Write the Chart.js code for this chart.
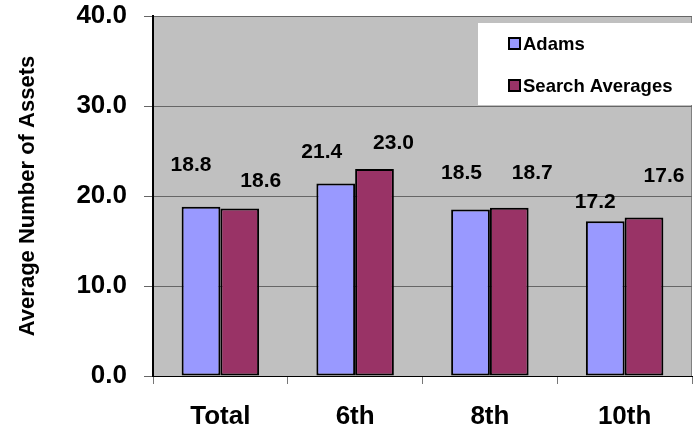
<!DOCTYPE html>
<html>
<head>
<meta charset="utf-8">
<script src="https://cdn.jsdelivr.net/npm/chart.js@4.4.3/dist/chart.umd.min.js"></script>
<style>
  body { margin: 0; background: #fff; }
  #wrap { width: 694px; height: 433px; }
</style>
</head>
<body>
<div id="wrap"><canvas id="grafico" width="694" height="433"></canvas></div>
<script>
// datos del gráfico
const categorias = ['Total', '6th', '8th', '10th'];
const adams = [18.8, 21.4, 18.5, 17.2];
const searchAverages = [18.6, 23.0, 18.7, 17.6];
const serieNombres = ['Adams', 'Search Averages'];
const serieColores = ['#9999FF', '#993366'];

// desplazamiento de cada etiqueta respecto al tope de su barra (dx, dy)
const nudgeAdams = [[-10, -42], [-14, -31], [-9, -36], [-10, -19]];
const nudgeSearch = [[21, -27], [19, -26], [23, -34], [20, -41]];

const FUENTE = "'Liberation Sans', Arial, sans-serif";

// fondo gris del área de trazado
const fondoPlot = {
    id: 'fondoPlot',
    beforeDraw(chart) {
        const { ctx, chartArea: a } = chart;
        ctx.save();
        ctx.fillStyle = '#C0C0C0';
        ctx.fillRect(a.left, a.top, a.right - a.left, a.bottom - a.top);
        ctx.strokeStyle = '#808080';
        ctx.lineWidth = 1;
        ctx.beginPath();
        ctx.moveTo(a.left, a.top + 0.5);
        ctx.lineTo(a.right - 0.5, a.top + 0.5);
        ctx.lineTo(a.right - 0.5, a.bottom);
        ctx.stroke();
        ctx.restore();
    }
};

// etiquetas de valor sobre las barras
const etiquetas = {
    id: 'etiquetas',
    afterDatasetsDraw(chart) {
        const { ctx } = chart;
        const nudges = [nudgeAdams, nudgeSearch];
        ctx.save();
        ctx.font = `bold 21px ${FUENTE}`;
        ctx.fillStyle = '#000';
        ctx.textAlign = 'center';
        ctx.textBaseline = 'middle';
        chart.data.datasets.forEach((ds, i) => {
            chart.getDatasetMeta(i).data.forEach((bar, j) => {
                const [dx, dy] = nudges[i][j];
                ctx.fillText(ds.data[j].toFixed(1), bar.x + dx, bar.y + dy);
            });
        });
        ctx.restore();
    }
};

// leyenda en caja blanca, arriba a la derecha
const leyenda = {
    id: 'leyenda',
    afterDraw(chart) {
        const { ctx, chartArea: a } = chart;
        const x0 = 478, y0 = 23, w = a.right - x0, h = 82;
        ctx.save();
        ctx.fillStyle = '#fff';
        ctx.fillRect(x0, y0, w, h);
        ctx.font = `bold 18.5px ${FUENTE}`;
        ctx.textBaseline = 'middle';
        chart.data.datasets.forEach((ds, i) => {
            const cy = 43.5 + i * 42;
            ctx.fillStyle = ds.backgroundColor;
            ctx.fillRect(509, cy - 5.5, 11, 11);
            ctx.strokeStyle = '#000';
            ctx.lineWidth = 2;
            ctx.strokeRect(509, cy - 5.5, 11, 11);
            ctx.fillStyle = '#000';
            ctx.fillText(ds.label, 523, cy + 1);
        });
        ctx.restore();
    }
};

new Chart(document.getElementById('grafico'), {
    type: 'bar',
    data: {
        labels: categorias,
        datasets: [
            { label: serieNombres[0], data: adams, backgroundColor: serieColores[0] },
            { label: serieNombres[1], data: searchAverages, backgroundColor: serieColores[1] }
        ]
    },
    options: {
        responsive: false,
        animation: false,
        layout: { padding: { top: 16, right: 2, left: 0, bottom: 0 } },
        datasets: {
            bar: {
                borderColor: '#000',
                borderWidth: 2,
                borderSkipped: false,
                categoryPercentage: 0.575,
                barPercentage: 1
            }
        },
        plugins: {
            legend: { display: false },
            tooltip: { enabled: false }
        },
        scales: {
            x: {
                afterFit(scale) { scale.height = 57; },
                grid: {
                    offset: true,
                    drawOnChartArea: false,
                    drawTicks: true,
                    tickLength: 8,
                    tickColor: '#777'
                },
                border: { color: '#000', width: 1 },
                ticks: {
                    color: '#000',
                    padding: 17,
                    font: { family: FUENTE, size: 26, weight: 'bold' }
                }
            },
            y: {
                min: 0,
                max: 40,
                afterFit(scale) {
                    scale.width = 153;
                    scale.paddingTop = 0;
                    scale.paddingBottom = 0;
                },
                grid: {
                    color: '#666',
                    tickLength: 9,
                    tickColor: '#666'
                },
                border: { color: '#000', width: 2 },
                ticks: {
                    stepSize: 10,
                    color: '#000',
                    padding: 17,
                    font: { family: FUENTE, size: 26, weight: 'bold' },
                    callback: v => v.toFixed(1)
                },
                title: {
                    display: true,
                    text: 'Average Number of Assets',
                    color: '#000',
                    padding: { top: 15, bottom: 0 },
                    font: { family: FUENTE, size: 22, weight: 'bold' }
                }
            }
        }
    },
    plugins: [fondoPlot, etiquetas, leyenda]
});
</script>
</body>
</html>
